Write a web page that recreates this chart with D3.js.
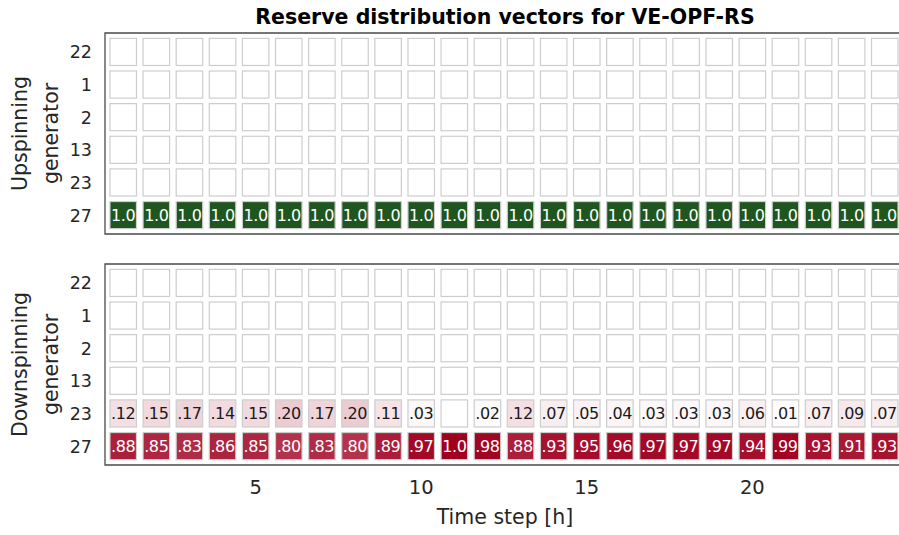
<!DOCTYPE html>
<html>
<head>
<meta charset="utf-8">
<script src="https://cdn.jsdelivr.net/npm/d3@7"></script>
<style>
  body { margin: 0; background: #fff; }
  svg text { font-family: "DejaVu Sans", sans-serif; }
</style>
</head>
<body>
<svg id="chart" width="899" height="535"></svg>
<script>
// data
var steps = d3.range(1, 25);
var generators = ["22", "1", "2", "13", "23", "27"];
var xTicks = [5, 10, 15, 20];

// upspinning: only generator 27 carries reserve
var up22 = [0,0,0,0,0,0,0,0,0,0,0,0,0,0,0,0,0,0,0,0,0,0,0,0];
var up1  = [0,0,0,0,0,0,0,0,0,0,0,0,0,0,0,0,0,0,0,0,0,0,0,0];
var up2  = [0,0,0,0,0,0,0,0,0,0,0,0,0,0,0,0,0,0,0,0,0,0,0,0];
var up13 = [0,0,0,0,0,0,0,0,0,0,0,0,0,0,0,0,0,0,0,0,0,0,0,0];
var up23 = [0,0,0,0,0,0,0,0,0,0,0,0,0,0,0,0,0,0,0,0,0,0,0,0];
var up27 = [1,1,1,1,1,1,1,1,1,1,1,1,1,1,1,1,1,1,1,1,1,1,1,1];

// downspinning
var down22 = [0,0,0,0,0,0,0,0,0,0,0,0,0,0,0,0,0,0,0,0,0,0,0,0];
var down1  = [0,0,0,0,0,0,0,0,0,0,0,0,0,0,0,0,0,0,0,0,0,0,0,0];
var down2  = [0,0,0,0,0,0,0,0,0,0,0,0,0,0,0,0,0,0,0,0,0,0,0,0];
var down13 = [0,0,0,0,0,0,0,0,0,0,0,0,0,0,0,0,0,0,0,0,0,0,0,0];
var down23 = [.12,.15,.17,.14,.15,.20,.17,.20,.11,.03,0,.02,.12,.07,.05,.04,.03,.03,.03,.06,.01,.07,.09,.07];
var down27 = [.88,.85,.83,.86,.85,.80,.83,.80,.89,.97,1.0,.98,.88,.93,.95,.96,.97,.97,.97,.94,.99,.93,.91,.93];

var upRows = [up22, up1, up2, up13, up23, up27];
var downRows = [down22, down1, down2, down13, down23, down27];

var svg = d3.select("#chart");

var left = 105, right = 903;
var xScale = d3.scaleLinear().domain([0.45, 24.55]).range([left, right]);
var cellW = 26.5;

function fmt(v) {
  if (v >= 1) return "1.0";
  return d3.format(".2f")(v).replace(/^0/, "");
}

function panel(rows, top, bottom, colorFor, label, showX) {
  var yScale = d3.scaleBand()
      .domain(generators)
      .range([top + 2.6, bottom - 2.6])
      .paddingInner(0.17)
      .paddingOuter(0.085);

  var cells = [];
  rows.forEach(function(vals, i) {
    vals.forEach(function(v, j) {
      cells.push({gen: generators[i], step: steps[j], v: v});
    });
  });

  var g = svg.append("g");

  g.selectAll(".cell")
   .data(cells)
   .enter().append("rect")
   .attr("x", function(d) { return xScale(d.step) - cellW / 2; })
   .attr("y", function(d) { return yScale(d.gen); })
   .attr("width", cellW)
   .attr("height", yScale.bandwidth())
   .style("fill", function(d) { return d.v > 0 ? colorFor(d.v) : "#fff"; })
   .style("stroke", "#cdcdcd")
   .style("stroke-width", 1.2);

  g.selectAll(".val")
   .data(cells.filter(function(d) { return d.v > 0; }))
   .enter().append("text")
   .attr("x", function(d) { return xScale(d.step); })
   .attr("y", function(d) { return yScale(d.gen) + yScale.bandwidth() / 2; })
   .attr("dy", "0.37em")
   .attr("text-anchor", "middle")
   .attr("font-size", "16px")
   .attr("letter-spacing", "-0.4px")
   .style("fill", function(d) { return d.v > 0.5 ? "#fff" : "#1a1a1a"; })
   .text(function(d) { return fmt(d.v); });

  // axes frame (right edge runs off the picture)
  g.append("path")
   .attr("d", "M" + right + "," + top + "H" + left + "V" + bottom + "H" + right)
   .style("fill", "none")
   .style("stroke", "#4a4a4a")
   .style("stroke-width", 1.3);

  g.selectAll(".ytick")
   .data(generators)
   .enter().append("text")
   .attr("x", 92)
   .attr("y", function(d) { return yScale(d) + yScale.bandwidth() / 2; })
   .attr("dy", "0.37em")
   .attr("text-anchor", "end")
   .attr("font-size", "17.5px")
   .style("fill", "#262626")
   .text(function(d) { return d; });

  var cy = (top + bottom) / 2;
  g.append("text")
   .attr("transform", "translate(27," + cy + ") rotate(-90)")
   .attr("text-anchor", "middle")
   .attr("font-size", "20.5px")
   .style("fill", "#262626")
   .text(label[0]);
  g.append("text")
   .attr("transform", "translate(58," + cy + ") rotate(-90)")
   .attr("text-anchor", "middle")
   .attr("font-size", "20.5px")
   .style("fill", "#262626")
   .text(label[1]);

  if (showX) {
    g.selectAll(".xtick")
     .data(xTicks)
     .enter().append("text")
     .attr("x", function(d) { return xScale(d); })
     .attr("y", 494)
     .attr("text-anchor", "middle")
     .attr("font-size", "19.5px")
     .style("fill", "#262626")
     .text(function(d) { return d; });
  }
}

var green = function() { return "#1f561f"; };
var red = d3.interpolateRgb("#ffffff", "#a0001f");

panel(upRows, 33, 234, green, ["Upspinning", "generator"], false);
panel(downRows, 264, 465, red, ["Downspinning", "generator"], true);

svg.append("text")
   .attr("x", 505)
   .attr("y", 24)
   .attr("text-anchor", "middle")
   .attr("font-size", "20.5px")
   .attr("font-weight", "bold")
   .style("fill", "#000")
   .text("Reserve distribution vectors for VE-OPF-RS");

svg.append("text")
   .attr("x", 505)
   .attr("y", 524)
   .attr("text-anchor", "middle")
   .attr("font-size", "20.5px")
   .style("fill", "#262626")
   .text("Time step [h]");
</script>
</body>
</html>
